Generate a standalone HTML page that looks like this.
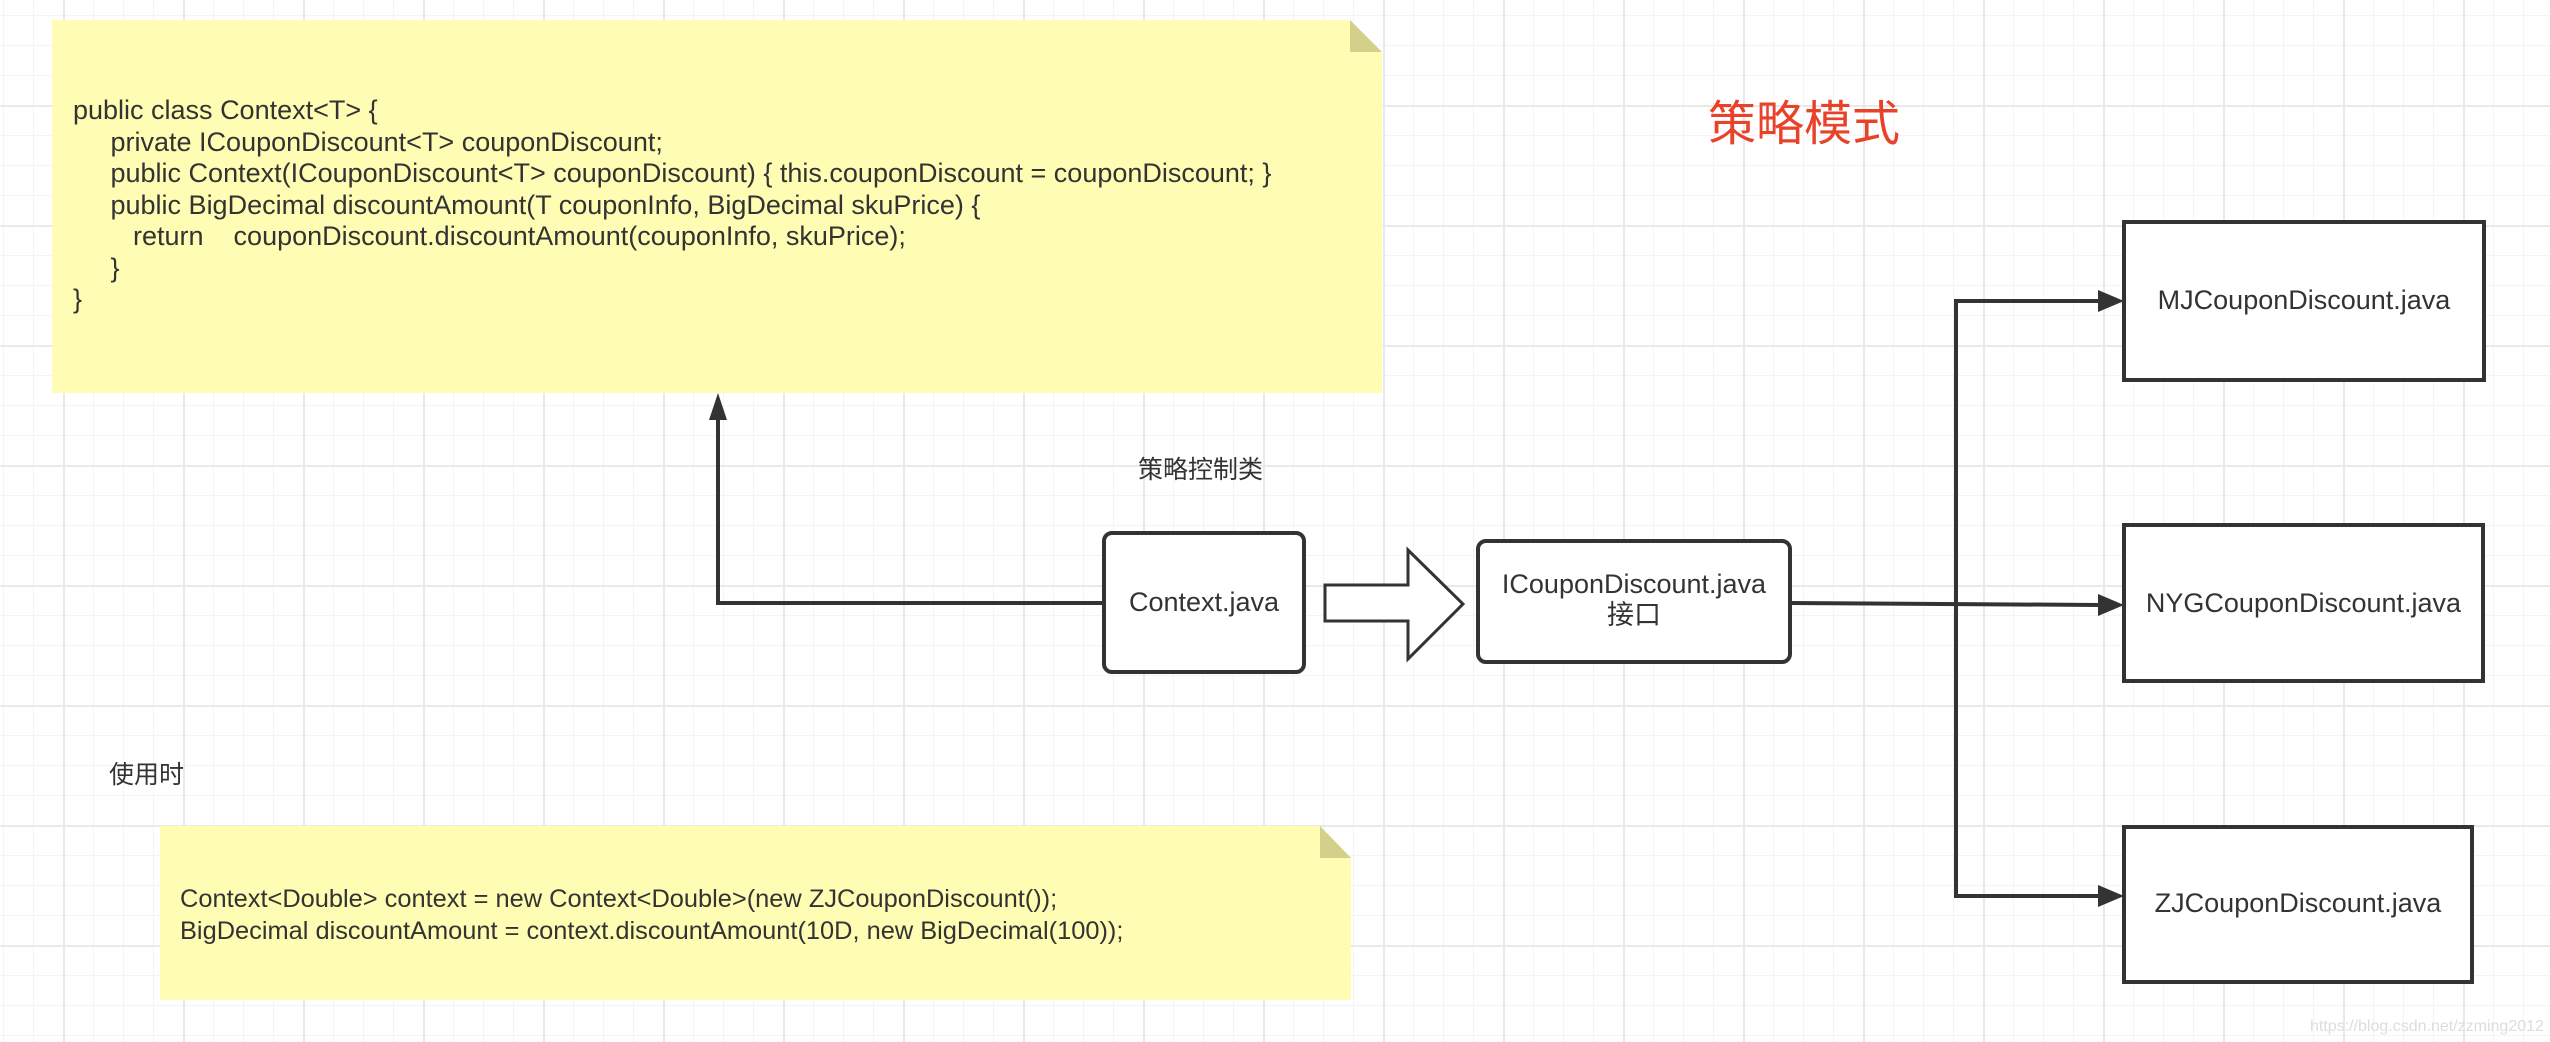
<!DOCTYPE html>
<html><head><meta charset="utf-8"><style>
html,body{margin:0;padding:0;}
body{width:2550px;height:1042px;position:relative;overflow:hidden;background:#fff;
font-family:"Liberation Sans","Noto Sans CJK SC",sans-serif;color:#333;}
.grid{position:absolute;inset:0;
background-image:
linear-gradient(to right,#e9e9e9 2px,transparent 2px),
linear-gradient(to bottom,#e9e9e9 2px,transparent 2px),
linear-gradient(to right,#f4f4f4 1px,transparent 1px),
linear-gradient(to bottom,#f4f4f4 1px,transparent 1px);
background-size:120px 120px,120px 120px,30px 30px,30px 30px;
background-position:63px 105px,63px 105px,3px 15px,3px 15px;}
.t{position:absolute;white-space:pre;}
</style></head><body>
<div class="grid"></div>
<svg width="2550" height="1042" style="position:absolute;left:0;top:0">
<polygon points="52,20 1350,20 1382,52 1382,393 52,393" fill="#fffdb3"/>
<polygon points="1350,20 1382,52 1350,52" fill="#d2d08a"/>
<polygon points="160,826 1320,826 1351,858 1351,1000 160,1000" fill="#fffdb3"/>
<polygon points="1320,826 1351,858 1320,858" fill="#d2d08a"/>
<g stroke="#333" stroke-width="4" fill="none">
<rect x="1104" y="533" width="200" height="139" rx="8" fill="#fff"/>
<rect x="1478" y="541" width="312" height="121" rx="8" fill="#fff"/>
<rect x="2124" y="222" width="360" height="158" fill="#fff"/>
<rect x="2124" y="525" width="359" height="156" fill="#fff"/>
<rect x="2124" y="827" width="348" height="155" fill="#fff"/>
<polygon points="1325,585 1408,585 1408,550 1463,604 1408,659 1408,621 1325,621" fill="#fff" stroke-width="3"/>
<polyline points="1104,603 718,603 718,420"/>
<polyline points="1790,603 2100,605"/>
<polyline points="2100,301 1956,301 1956,896 2100,896"/>
</g>
<g fill="#333">
<polygon points="718,393 709,420 727,420"/>
<polygon points="2124,301 2098,290 2098,312"/>
<polygon points="2124,605 2098,594 2098,616"/>
<polygon points="2124,896 2098,885 2098,907"/>
</g>
</svg>
<div class="t" style="left:73px;top:95px;font-size:27px;line-height:31.5px;">public class Context&lt;T&gt; {
     private ICouponDiscount&lt;T&gt; couponDiscount;
     public Context(ICouponDiscount&lt;T&gt; couponDiscount) { this.couponDiscount = couponDiscount; }
     public BigDecimal discountAmount(T couponInfo, BigDecimal skuPrice) {
        return    couponDiscount.discountAmount(couponInfo, skuPrice);
     }
}</div>
<div class="t" style="left:1708px;top:84px;font-size:48px;color:#e8432a;">策略模式</div>
<div class="t" style="left:1138px;top:450px;font-size:25px;">策略控制类</div>
<div class="t" style="left:1104px;top:587px;width:200px;text-align:center;font-size:27px;">Context.java</div>
<div class="t" style="left:1478px;top:569px;width:312px;text-align:center;font-size:27px;line-height:31px;">ICouponDiscount.java
接口</div>
<div class="t" style="left:2124px;top:285px;width:360px;text-align:center;font-size:27px;">MJCouponDiscount.java</div>
<div class="t" style="left:2124px;top:588px;width:359px;text-align:center;font-size:27px;">NYGCouponDiscount.java</div>
<div class="t" style="left:2124px;top:888px;width:348px;text-align:center;font-size:27px;">ZJCouponDiscount.java</div>
<div class="t" style="left:109px;top:755px;font-size:25px;">使用时</div>
<div class="t" style="left:180px;top:883px;font-size:25.4px;line-height:32px;">Context&lt;Double&gt; context = new Context&lt;Double&gt;(new ZJCouponDiscount());
BigDecimal discountAmount = context.discountAmount(10D, new BigDecimal(100));</div>
<div class="t" style="left:2310px;top:1018px;font-size:16px;color:#ddd;">https://blog.csdn.net/zzming2012</div>
</body></html>
